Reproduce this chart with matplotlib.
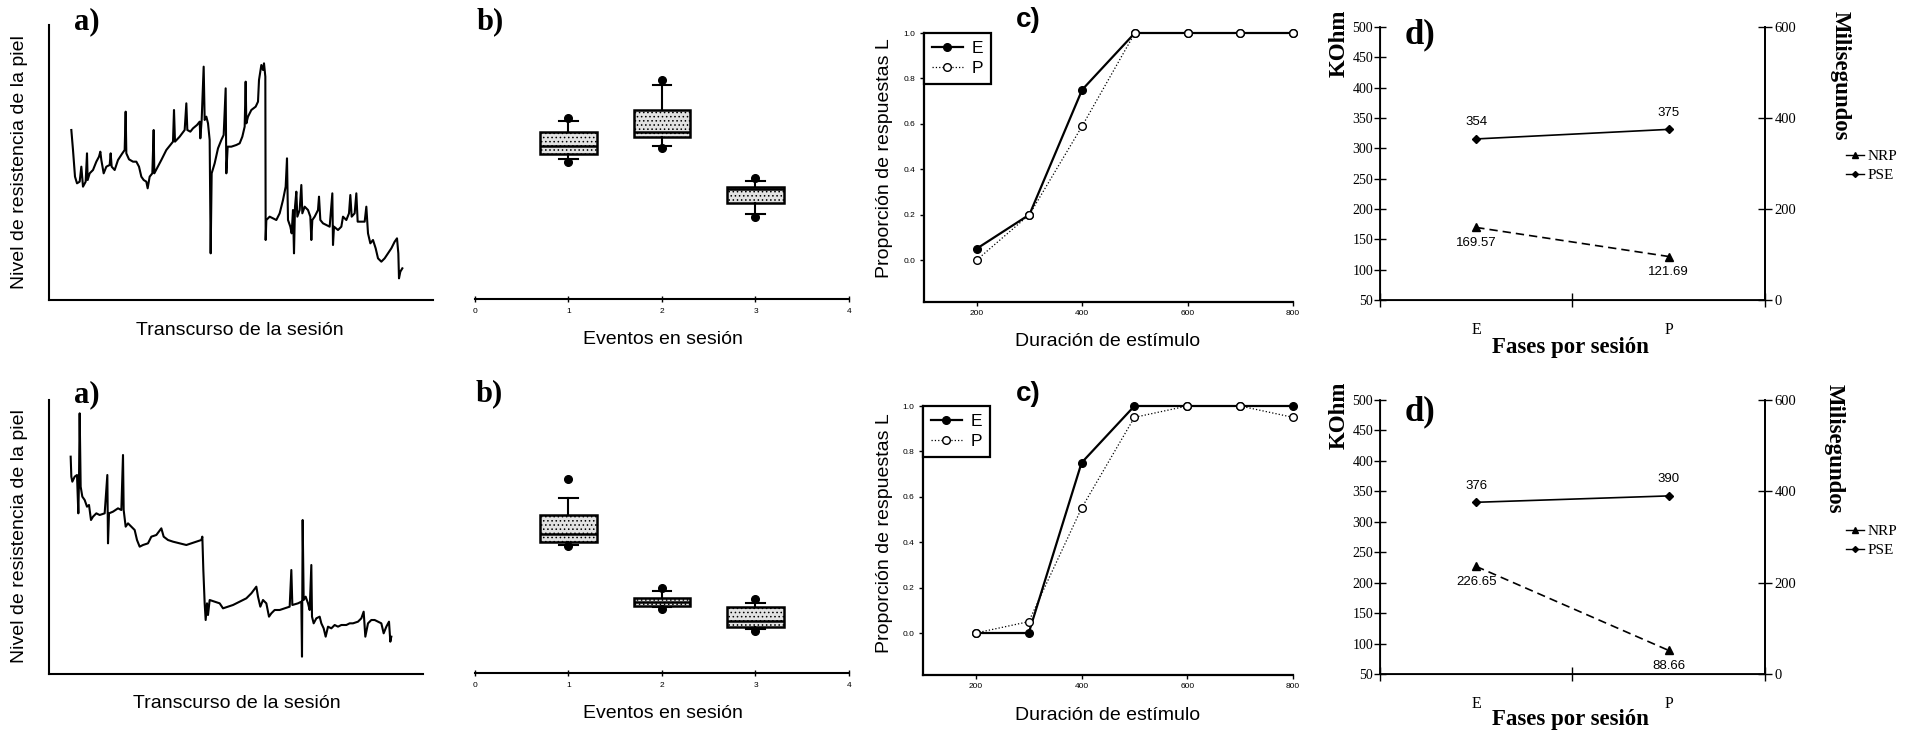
import matplotlib
matplotlib.use("Agg")
import matplotlib.pyplot as plt
from matplotlib.lines import Line2D

# ---------------- data ----------------
# a) skin resistance traces (arbitrary units)
a_top_t = [215,220,226,232,240,245,250,258,262,264,270,280,290,298,302,305,312,320,330,333,336,345,355,368,375,378,380,388,400,410,418,425,432,440,444,450,458,462,464,472,485,500,512,520,523,526,540,555,560,563,572,580,592,600,602,606,612,615,620,625,630,633,636,645,655,665,672,678,680,684,695,710,720,728,735,738,740,745,755,768,775,778,785,790,793,797,798,800,810,820,830,840,850,858,862,865,872,876,880,883,886,890,893,900,905,908,915,925,932,935,938,945,955,958,962,970,980,990,998,1000,1003,1015,1025,1030,1040,1048,1052,1056,1065,1070,1074,1085,1095,1100,1105,1112,1120,1128,1135,1145,1155,1165,1175,1185,1192,1196,1198,1202,1208]
a_top_level = [510,450,370,350,355,400,340,355,440,360,380,390,415,430,445,420,380,400,405,440,400,390,420,440,450,565,440,422,415,415,400,370,360,355,335,370,380,510,380,395,420,450,465,475,570,475,490,510,590,510,505,515,525,535,485,540,700,540,550,530,480,140,380,410,455,480,495,635,380,460,460,465,470,490,520,655,530,550,570,580,595,660,705,690,710,670,180,240,250,245,240,260,300,340,425,240,220,200,270,140,280,325,250,270,345,260,280,270,250,180,240,250,270,310,240,230,225,220,320,165,220,210,220,250,240,260,315,250,260,320,235,235,235,280,200,170,180,155,125,115,125,140,155,175,185,140,65,85,95]

a_bot_t = [213,215,218,225,232,236,238,240,243,248,255,262,268,274,280,290,300,315,323,325,328,340,355,365,370,372,378,385,395,405,412,420,430,445,455,470,485,492,505,520,540,560,575,590,605,608,611,615,618,622,625,630,645,660,670,685,700,720,740,755,770,775,782,790,800,808,815,825,840,855,870,875,878,895,905,907,909,912,918,925,930,935,937,942,950,960,965,972,978,985,995,1005,1015,1025,1040,1050,1060,1075,1085,1092,1097,1105,1115,1125,1135,1145,1152,1160,1168,1172,1175]
a_bot_level = [652,592,577,592,597,482,582,782,562,532,522,502,507,462,472,482,477,482,597,392,482,487,497,492,657,492,442,452,442,432,402,382,387,392,412,417,437,412,402,397,392,387,392,397,402,412,312,212,162,212,177,222,217,212,197,202,207,217,227,242,262,232,202,222,212,172,182,192,192,197,202,312,207,212,217,52,462,222,232,212,192,327,172,152,167,172,152,137,112,142,137,147,142,147,147,152,152,157,167,187,112,152,162,162,157,152,122,142,157,97,112]

# b) box plots per event (arbitrary units)
b_events = [1, 2, 3]
b_top_whislo = [51, 56, 31]
b_top_q1 = [53, 59, 35]
b_top_med = [56, 61, 40]
b_top_q3 = [61, 69, 41]
b_top_whishi = [65, 78, 43]
b_top_low_out = [50, 55, 30]
b_top_high_out = [66, 80, 44]

b_bot_whislo = [47, 24, 16]
b_bot_q1 = [48, 24.5, 17]
b_bot_med = [51, 26, 19]
b_bot_q3 = [58, 27.5, 24]
b_bot_whishi = [64, 30, 25.5]
b_bot_low_out = [46.5, 23.5, 15.5]
b_bot_high_out = [71, 31, 27]

# c) proportion of L responses
c_dur = [200, 300, 400, 500, 600, 700, 800]
c_top_E = [0.05, 0.20, 0.75, 1.00, 1.00, 1.00, 1.00]
c_top_P = [0.00, 0.20, 0.59, 1.00, 1.00, 1.00, 1.00]
c_bot_E = [0.00, 0.00, 0.75, 1.00, 1.00, 1.00, 1.00]
c_bot_P = [0.00, 0.05, 0.55, 0.95, 1.00, 1.00, 0.95]

# d) NRP (KOhm) and PSE (ms) per phase
d_phases = ["E", "P"]
d_top_NRP = [169.57, 121.69]
d_top_PSE = [354, 375]
d_bot_NRP = [226.65, 88.66]
d_bot_PSE = [376, 390]

# ---------------- style ----------------
SANS = "Liberation Sans"
SERIF = "Liberation Serif"
plt.rcParams["font.family"] = [SANS, "DejaVu Sans"]
plt.rcParams["hatch.color"] = "#8a8a8a"
plt.rcParams["hatch.linewidth"] = 0.6

W, H = 1906, 736
fig = plt.figure(figsize=(W / 100, H / 100), dpi=100)


def add_ax(x0, y0, x1, y1):
    return fig.add_axes([x0 / W, 1 - y1 / H, (x1 - x0) / W, (y1 - y0) / H])


def ftext(x, y, s, **kw):
    kw.setdefault("ha", "center")
    kw.setdefault("va", "center")
    fig.text(x / W, 1 - y / H, s, **kw)


def panel_a(box, t, lev, xlim, ylim):
    ax = add_ax(*box)
    ax.plot(t, lev, color="black", lw=1.5)
    ax.set_xlim(*xlim)
    ax.set_ylim(*ylim)
    for s in ("top", "right"):
        ax.spines[s].set_visible(False)
    for s in ("left", "bottom"):
        ax.spines[s].set_linewidth(1.5)
    ax.set_xticks([])
    ax.set_yticks([])
    return ax


def panel_b(box, wl, q1, med, q3, wh, lo, hi):
    ax = add_ax(*box)
    stats = []
    for i in range(len(b_events)):
        stats.append(dict(med=med[i], q1=q1[i], q3=q3[i], whislo=wl[i],
                          whishi=wh[i], fliers=[lo[i], hi[i]]))
    ax.bxp(stats, positions=b_events, widths=0.6, patch_artist=True,
           capwidths=0.2,
           boxprops=dict(facecolor="#e2e2e2", edgecolor="black", lw=1.8, hatch="...."),
           medianprops=dict(color="black", lw=1.8),
           whiskerprops=dict(color="black", lw=1.5),
           capprops=dict(color="black", lw=1.5),
           flierprops=dict(marker="o", markerfacecolor="black",
                           markeredgecolor="black", markersize=5.5))
    ax.set_xlim(0, 4)
    ax.set_ylim(0, 100)
    for s in ("top", "right", "left"):
        ax.spines[s].set_visible(False)
    ax.spines["bottom"].set_linewidth(1.5)
    ax.set_yticks([])
    ax.set_xticks([0, 1, 2, 3, 4])
    ax.set_xticklabels(["0", "1", "2", "3", "4"])
    ax.tick_params(axis="x", direction="inout", length=5, width=1, labelsize=6, pad=4)
    return ax


def panel_c(box, E, P):
    ax = add_ax(*box)
    ax.plot(c_dur, E, color="black", lw=1.6, marker="o", markersize=5.5,
            markerfacecolor="black", label="E", clip_on=False)
    ax.plot(c_dur, P, color="black", lw=0.9, ls=":", marker="o", markersize=5.5,
            markerfacecolor="white", markeredgewidth=1.0, label="P", clip_on=False)
    ax.set_xlim(100, 800)
    ax.set_ylim(-0.185, 1.0)
    ax.set_xticks([200, 400, 600, 800])
    ax.set_yticks([0.0, 0.2, 0.4, 0.6, 0.8, 1.0])
    ax.set_yticklabels(["0.0", "0.2", "0.4", "0.6", "0.8", "1.0"])
    for s in ("top", "right"):
        ax.spines[s].set_visible(False)
    for s in ("left", "bottom"):
        ax.spines[s].set_linewidth(1.6)
    ax.tick_params(direction="out", length=3, width=1, labelsize=6, pad=3)
    leg = ax.legend(loc="upper left", bbox_to_anchor=(0, 1), borderaxespad=0,
                    fontsize=12.5, frameon=True, fancybox=False, edgecolor="black",
                    framealpha=1, handlelength=1.8, handletextpad=0.5,
                    borderpad=0.45, labelspacing=0.3)
    leg.get_frame().set_linewidth(1.6)
    return ax


def panel_d(box, NRP, PSE, leg_y):
    ax = add_ax(*box)
    xpos = [0.5, 1.5]
    ax.plot(xpos, NRP, color="black", lw=1.2, ls=(0, (5, 3)), marker="^",
            markersize=6, clip_on=False)
    ax.set_xlim(0, 2)
    ax.set_ylim(50, 500)
    ax.set_yticks(list(range(50, 501, 50)))
    ax.set_xticks([0, 1, 2])
    ax.set_xticklabels([])
    ax.set_xticks(xpos, minor=True)
    ax.set_xticklabels(d_phases, minor=True, fontfamily=SERIF, fontsize=11.5)
    ax.tick_params(axis="x", which="minor", length=0, pad=16)
    ax.tick_params(axis="x", which="major", direction="inout", length=10, width=1)
    ax.tick_params(axis="y", direction="inout", length=8, width=1, labelsize=10, pad=1)
    for lab in ax.get_yticklabels():
        lab.set_fontfamily(SERIF)
    ax.spines["top"].set_visible(False)
    for s in ("left", "bottom", "right"):
        ax.spines[s].set_linewidth(1.3)
    ax2 = ax.twinx()
    ax2.plot(xpos, PSE, color="black", lw=1.2, marker="D", markersize=4, clip_on=False)
    ax2.set_ylim(0, 600)
    ax2.set_yticks([0, 200, 400, 600])
    ax2.tick_params(axis="y", direction="inout", length=10, width=1, labelsize=10.5, pad=2)
    for lab in ax2.get_yticklabels():
        lab.set_fontfamily(SERIF)
    ax2.spines["top"].set_visible(False)
    ax2.spines["right"].set_linewidth(1.3)
    for x, v in zip(xpos, NRP):
        ax.annotate(f"{v:.2f}", (x, v), xytext=(0, -11), textcoords="offset points",
                    ha="center", va="center", fontsize=9.5)
    for x, v in zip(xpos, PSE):
        ax2.annotate(f"{v:d}", (x, v), xytext=(0, 12), textcoords="offset points",
                     ha="center", va="center", fontsize=9.5)
    handles = [Line2D([], [], color="black", lw=1, marker="^", markersize=5),
               Line2D([], [], color="black", lw=1, marker="D", markersize=3)]
    fig.legend(handles, ["NRP", "PSE"], loc="center left",
               bbox_to_anchor=(1838 / W, 1 - leg_y / H), frameon=False,
               prop=dict(family=SERIF, size=11), handlelength=1.2,
               handletextpad=0.25, labelspacing=0.35, borderpad=0)
    return ax


# ---------------- top row ----------------
panel_a((49, 25, 433, 300), a_top_t, a_top_level, (148, 1300), (0, 825))
panel_b((475, 25, 849, 299), b_top_whislo, b_top_q1, b_top_med, b_top_q3,
        b_top_whishi, b_top_low_out, b_top_high_out)
panel_c((924, 33, 1293, 302), c_top_E, c_top_P)
panel_d((1380, 27, 1765, 300), d_top_NRP, d_top_PSE, 166)

# ---------------- bottom row ----------------
panel_a((49, 400, 423, 674), a_bot_t, a_bot_level, (148, 1270), (0, 822))
panel_b((475, 400, 849, 673), b_bot_whislo, b_bot_q1, b_bot_med, b_bot_q3,
        b_bot_whishi, b_bot_low_out, b_bot_high_out)
panel_c((923, 406, 1293, 675), c_bot_E, c_bot_P)
panel_d((1380, 400, 1765, 674), d_bot_NRP, d_bot_PSE, 541)

# ---------------- texts ----------------
serif_lab = dict(fontfamily=SERIF, fontweight="bold", fontsize=22)
for (x, y, s) in [(87, 22, "a)"), (87, 395, "a)"), (490, 22, "b)"), (489, 394, "b)")]:
    ftext(x, y, s, **serif_lab)
for (x, y) in [(1028, 20), (1028, 394)]:
    ftext(x, y, "c)", fontweight="bold", fontsize=20)
for (x, y) in [(1420, 35), (1420, 412)]:
    ftext(x, y, "d)", fontfamily=SERIF, fontweight="bold", fontsize=25)

sans_lab = dict(fontsize=14)
ftext(20, 162, "Nivel de resistencia de la piel", rotation=90, **sans_lab)
ftext(20, 536, "Nivel de resistencia de la piel", rotation=90, **sans_lab)
ftext(240, 330, "Transcurso de la sesión", **sans_lab)
ftext(237, 703, "Transcurso de la sesión", **sans_lab)
ftext(663, 340, "Eventos en sesión", **sans_lab)
ftext(663, 713, "Eventos en sesión", **sans_lab)
ftext(885, 158, "Proporción de respuestas L", rotation=90, **sans_lab)
ftext(885, 533, "Proporción de respuestas L", rotation=90, **sans_lab)
ftext(1108, 342, "Duración de estímulo", **sans_lab)
ftext(1108, 715, "Duración de estímulo", **sans_lab)

bold_serif = dict(fontfamily=SERIF, fontweight="bold", fontsize=16.5)
ftext(1339, 43, "KOhm", rotation=90, **bold_serif)
ftext(1339, 415, "KOhm", rotation=90, **bold_serif)
ftext(1840, 76, "Milisegundos", rotation=270, **bold_serif)
ftext(1834, 449, "Milisegundos", rotation=270, **bold_serif)
ftext(1570, 348, "Fases por sesión", **bold_serif)
ftext(1570, 720, "Fases por sesión", **bold_serif)

fig.savefig("out.png", dpi=100, facecolor="white")
